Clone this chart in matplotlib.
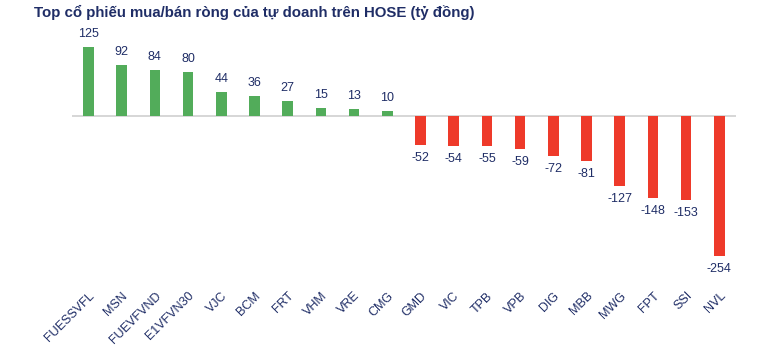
import matplotlib.pyplot as plt

plt.rcParams['font.family'] = ['Liberation Sans', 'DejaVu Sans']

# Net buy/sell by proprietary traders on HOSE (bn VND)
tickers = ["FUESSVFL", "MSN", "FUEVFVND", "E1VFVN30", "VJC", "BCM", "FRT", "VHM",
           "VRE", "CMG", "GMD", "VIC", "TPB", "VPB", "DIG", "MBB", "MWG", "FPT",
           "SSI", "NVL"]
values = [125, 92, 84, 80, 44, 36, 27, 15, 13, 10, -52, -54, -55, -59, -72, -81,
          -127, -148, -153, -254]

green = "#52AC5A"
red = "#EE3A2A"
navy = "#1F2D66"
colors = [green if v >= 0 else red for v in values]

fig = plt.figure(figsize=(7.65, 3.55), dpi=100)
ax = fig.add_axes([0.094, 0.2225, 0.868, 0.668])

x = range(len(tickers))
ax.bar(x, values, width=0.32, color=colors, zorder=2)
ax.axhline(0, color="#D0D0D0", lw=1.2, zorder=1)

for i, v in enumerate(values):
    if v >= 0:
        ax.annotate(f"{v}", (i, v), xytext=(0, 5), textcoords="offset points",
                    ha="center", va="bottom", fontsize=9, color=navy)
    else:
        ax.annotate(f"{v}", (i, v), xytext=(0, -5), textcoords="offset points",
                    ha="center", va="top", fontsize=9, color=navy)

ax.set_xlim(-0.5, len(tickers) - 0.5)
ax.set_ylim(-290, 140)
ax.set_xticks(list(x))
ax.set_xticklabels(tickers, rotation=45, ha="right", rotation_mode="anchor",
                   fontsize=9, color=navy)
ax.tick_params(axis="x", length=0, pad=10)
ax.set_yticks([])
for s in ax.spines.values():
    s.set_visible(False)

fig.text(0.044, 0.965, "Top cổ phiếu mua/bán ròng của tự doanh trên HOSE (tỷ đồng)",
         fontsize=10.8, fontweight="bold", color=navy, ha="left", va="center")

fig.savefig("out.png", dpi=100)
